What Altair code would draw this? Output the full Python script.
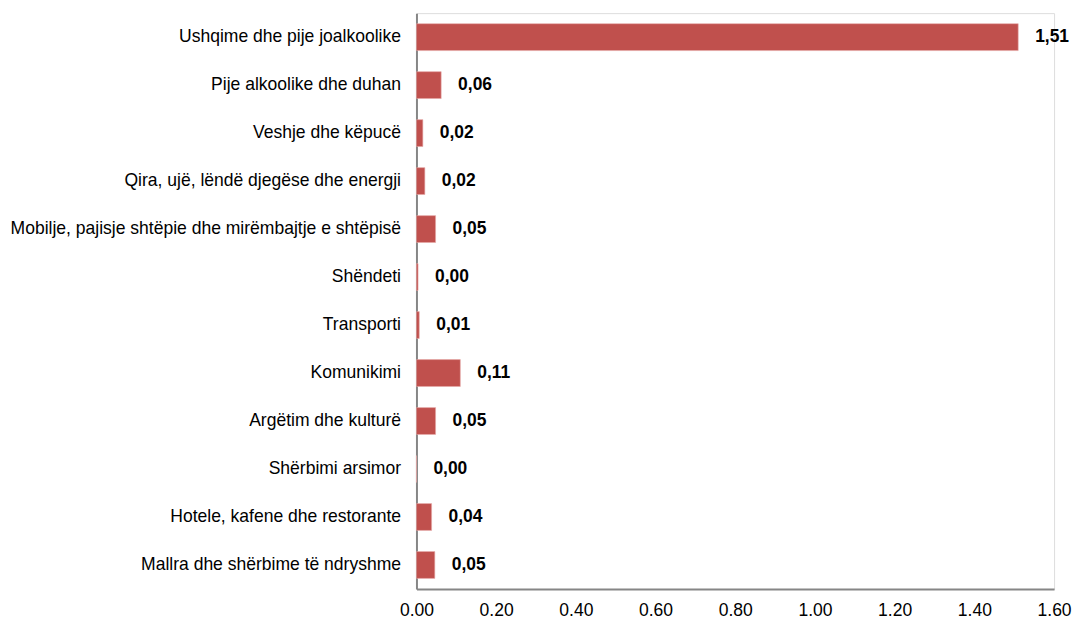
import altair as alt
import pandas as pd

categories = [
    "Ushqime dhe pije joalkoolike",
    "Pije alkoolike dhe duhan",
    "Veshje dhe këpucë",
    "Qira, ujë, lëndë djegëse dhe energji",
    "Mobilje, pajisje shtëpie dhe mirëmbajtje e shtëpisë",
    "Shëndeti",
    "Transporti",
    "Komunikimi",
    "Argëtim dhe kulturë",
    "Shërbimi arsimor",
    "Hotele, kafene dhe restorante",
    "Mallra dhe shërbime të ndryshme",
]
values = [1.51, 0.062, 0.016, 0.021, 0.048, 0.004, 0.007, 0.11, 0.048, 0.0, 0.038, 0.046]
labels = ["1,51", "0,06", "0,02", "0,02", "0,05", "0,00", "0,01", "0,11", "0,05", "0,00", "0,04", "0,05"]

df = pd.DataFrame({"cat": categories, "val": values, "lab": labels})

FONT = "Liberation Sans"

y = alt.Y("cat:N", sort=categories, title=None,
          scale=alt.Scale(paddingInner=0.44, paddingOuter=0.22),
          axis=alt.Axis(labelFont=FONT, labelFontSize=17.6, labelColor="#000000",
                        labelPadding=16, labelLimit=500, ticks=False,
                        domainColor="#868686", domainWidth=2, grid=False))
x = alt.X("val:Q", title=None,
          scale=alt.Scale(domain=[0, 1.6], nice=False, clamp=False),
          axis=alt.Axis(values=[0, 0.2, 0.4, 0.6, 0.8, 1.0, 1.2, 1.4, 1.6], format=".2f",
                        labelFont=FONT, labelFontSize=17.6, labelColor="#000000",
                        labelPadding=13, labelFlush=False, labelOverlap=False,
                        ticks=False, grid=False,
                        domainColor="#868686", domainWidth=2))

bars = alt.Chart(df).mark_bar(color="#C0504D", stroke="#E6A9A7", strokeWidth=0.6).encode(y=y, x=x)
text = alt.Chart(df).mark_text(align="left", baseline="middle", dx=17, font=FONT,
                               fontSize=17.5, fontWeight="bold", color="#000000").encode(
    y=alt.Y("cat:N", sort=categories), x=alt.X("val:Q"), text="lab:N")

chart = (bars + text).properties(
    width=640, height=578,
    autosize=alt.AutoSizeParams(type="none"),
    padding={"left": 410, "top": 4, "right": 18, "bottom": 34},
).configure_view(stroke=None).configure(background="#ffffff")

chart.save("out.html", embed_options={"renderer": "svg", "actions": False})
